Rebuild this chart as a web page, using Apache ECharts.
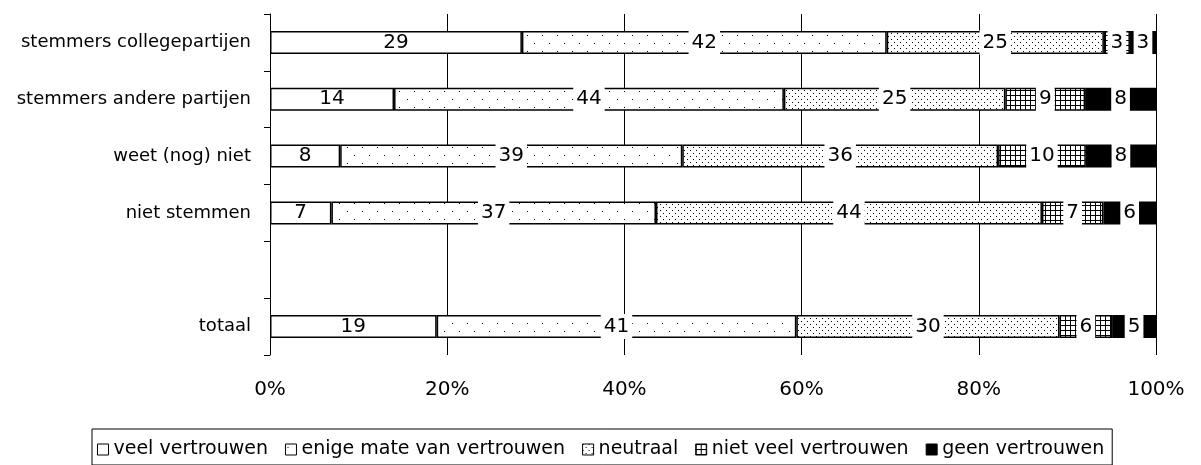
<!DOCTYPE html>
<html>
<head>
<meta charset="utf-8">
<script src="https://cdn.jsdelivr.net/npm/echarts@6/dist/echarts.min.js"></script>
<style>
  html, body { margin: 0; padding: 0; background: #fff; }
  #chart { width: 1201px; height: 465px; }
</style>
</head>
<body>
<div id="chart"></div>
<script>
// categorieën (lege regel tussen "niet stemmen" en "totaal")
const categories = ["stemmers collegepartijen", "stemmers andere partijen", "weet (nog) niet", "niet stemmen", "", "totaal"];
const seriesNames = ["veel vertrouwen", "enige mate van vertrouwen", "neutraal", "niet veel vertrouwen", "geen vertrouwen"];

const veelVertrouwen   = [29, 14, 8, 7, null, 19];
const enigeMate        = [42, 44, 39, 37, null, 41];
const neutraal         = [25, 25, 36, 44, null, 30];
const nietVeel         = [3, 9, 10, 7, null, 6];
const geenVertrouwen   = [3, 8, 8, 6, null, 5];

const xTicks = [0, 20, 40, 60, 80, 100];

const allValues = [veelVertrouwen, enigeMate, neutraal, nietVeel, geenVertrouwen];

// patronen voor de vlakken
function makePattern(w, h, draw) {
  let c = document.createElement("canvas");
  c.width = w; c.height = h;
  let ctx = c.getContext("2d");
  ctx.fillStyle = "#fff";
  ctx.fillRect(0, 0, w, h);
  ctx.fillStyle = "#000";
  draw(ctx);
  return { image: c, repeat: "repeat" };
}

const fills = [
  "#ffffff",
  makePattern(15, 16, function(ctx) {   // losse puntjes
    ctx.fillRect(2, 3, 1, 1);
    ctx.fillRect(9, 11, 1, 1);
  }),
  makePattern(6, 6, function(ctx) {     // dichte puntjes
    ctx.fillRect(0, 0, 1, 1);
    ctx.fillRect(3, 3, 1, 1);
  }),
  makePattern(5, 5, function(ctx) {     // ruitjes
    ctx.fillRect(0, 0, 5, 1);
    ctx.fillRect(0, 0, 1, 5);
  }),
  "#000000"
];

// rij totalen (100% gestapeld)
let rowSums = categories.map(function(c, i) {
  let s = 0;
  allValues.forEach(function(arr) { s += arr[i] || 0; });
  return s;
});

let myEchart = echarts.init(document.getElementById("chart"));

let series = seriesNames.map(function(name, k) {
  return {
    name: name,
    type: "bar",
    stack: "totaal",
    barWidth: 23,
    itemStyle: {
      color: fills[k],
      borderColor: "#000",
      borderWidth: 1.5
    },
    label: {
      show: true,
      position: "inside",
      fontFamily: "DejaVu Sans",
      fontSize: 20,
      color: "#000",
      // witte segmenten: label zonder vlak erachter
      backgroundColor: k === 0 ? "transparent" : "#fff",
      padding: [3, 3, 2, 3],
      formatter: function(p) { return allValues[k][p.dataIndex]; }
    },
    emphasis: { disabled: true },
    data: allValues[k].map(function(v, i) {
      return v == null ? "-" : v / rowSums[i] * 100;
    })
  };
});

let option = {
  animation: false,
  backgroundColor: "#fff",
  grid: { left: 270, right: 45, top: 14, bottom: 110 },
  legend: {
    left: 92,
    top: 429,
    orient: "horizontal",
    itemWidth: 11,
    itemHeight: 11,
    itemGap: 17,
    padding: [11, 8, 6, 5],
    borderColor: "#000",
    borderWidth: 1,
    icon: "rect",
    itemStyle: { borderColor: "#000", borderWidth: 1 },
    textStyle: { fontFamily: "DejaVu Sans", fontSize: 19, color: "#000" },
    data: seriesNames
  },
  xAxis: {
    type: "value",
    min: 0,
    max: 100,
    interval: 20,
    axisLine: { show: false },
    axisTick: { show: false },
    splitLine: { show: true, lineStyle: { color: "#000", width: 1 } },
    axisLabel: {
      margin: 25,
      fontFamily: "DejaVu Sans",
      fontSize: 20,
      color: "#000",
      formatter: function(v) { return xTicks.indexOf(v) >= 0 ? v + "%" : ""; }
    }
  },
  yAxis: {
    type: "category",
    inverse: true,
    data: categories,
    axisLine: { show: true, lineStyle: { color: "#000", width: 1 } },
    axisTick: { show: true, length: 6, lineStyle: { color: "#000" } },
    axisLabel: {
      margin: 19,
      fontFamily: "DejaVu Sans",
      fontSize: 18,
      color: "#000"
    }
  },
  series: series
};

myEchart.setOption(option);
</script>
</body>
</html>
